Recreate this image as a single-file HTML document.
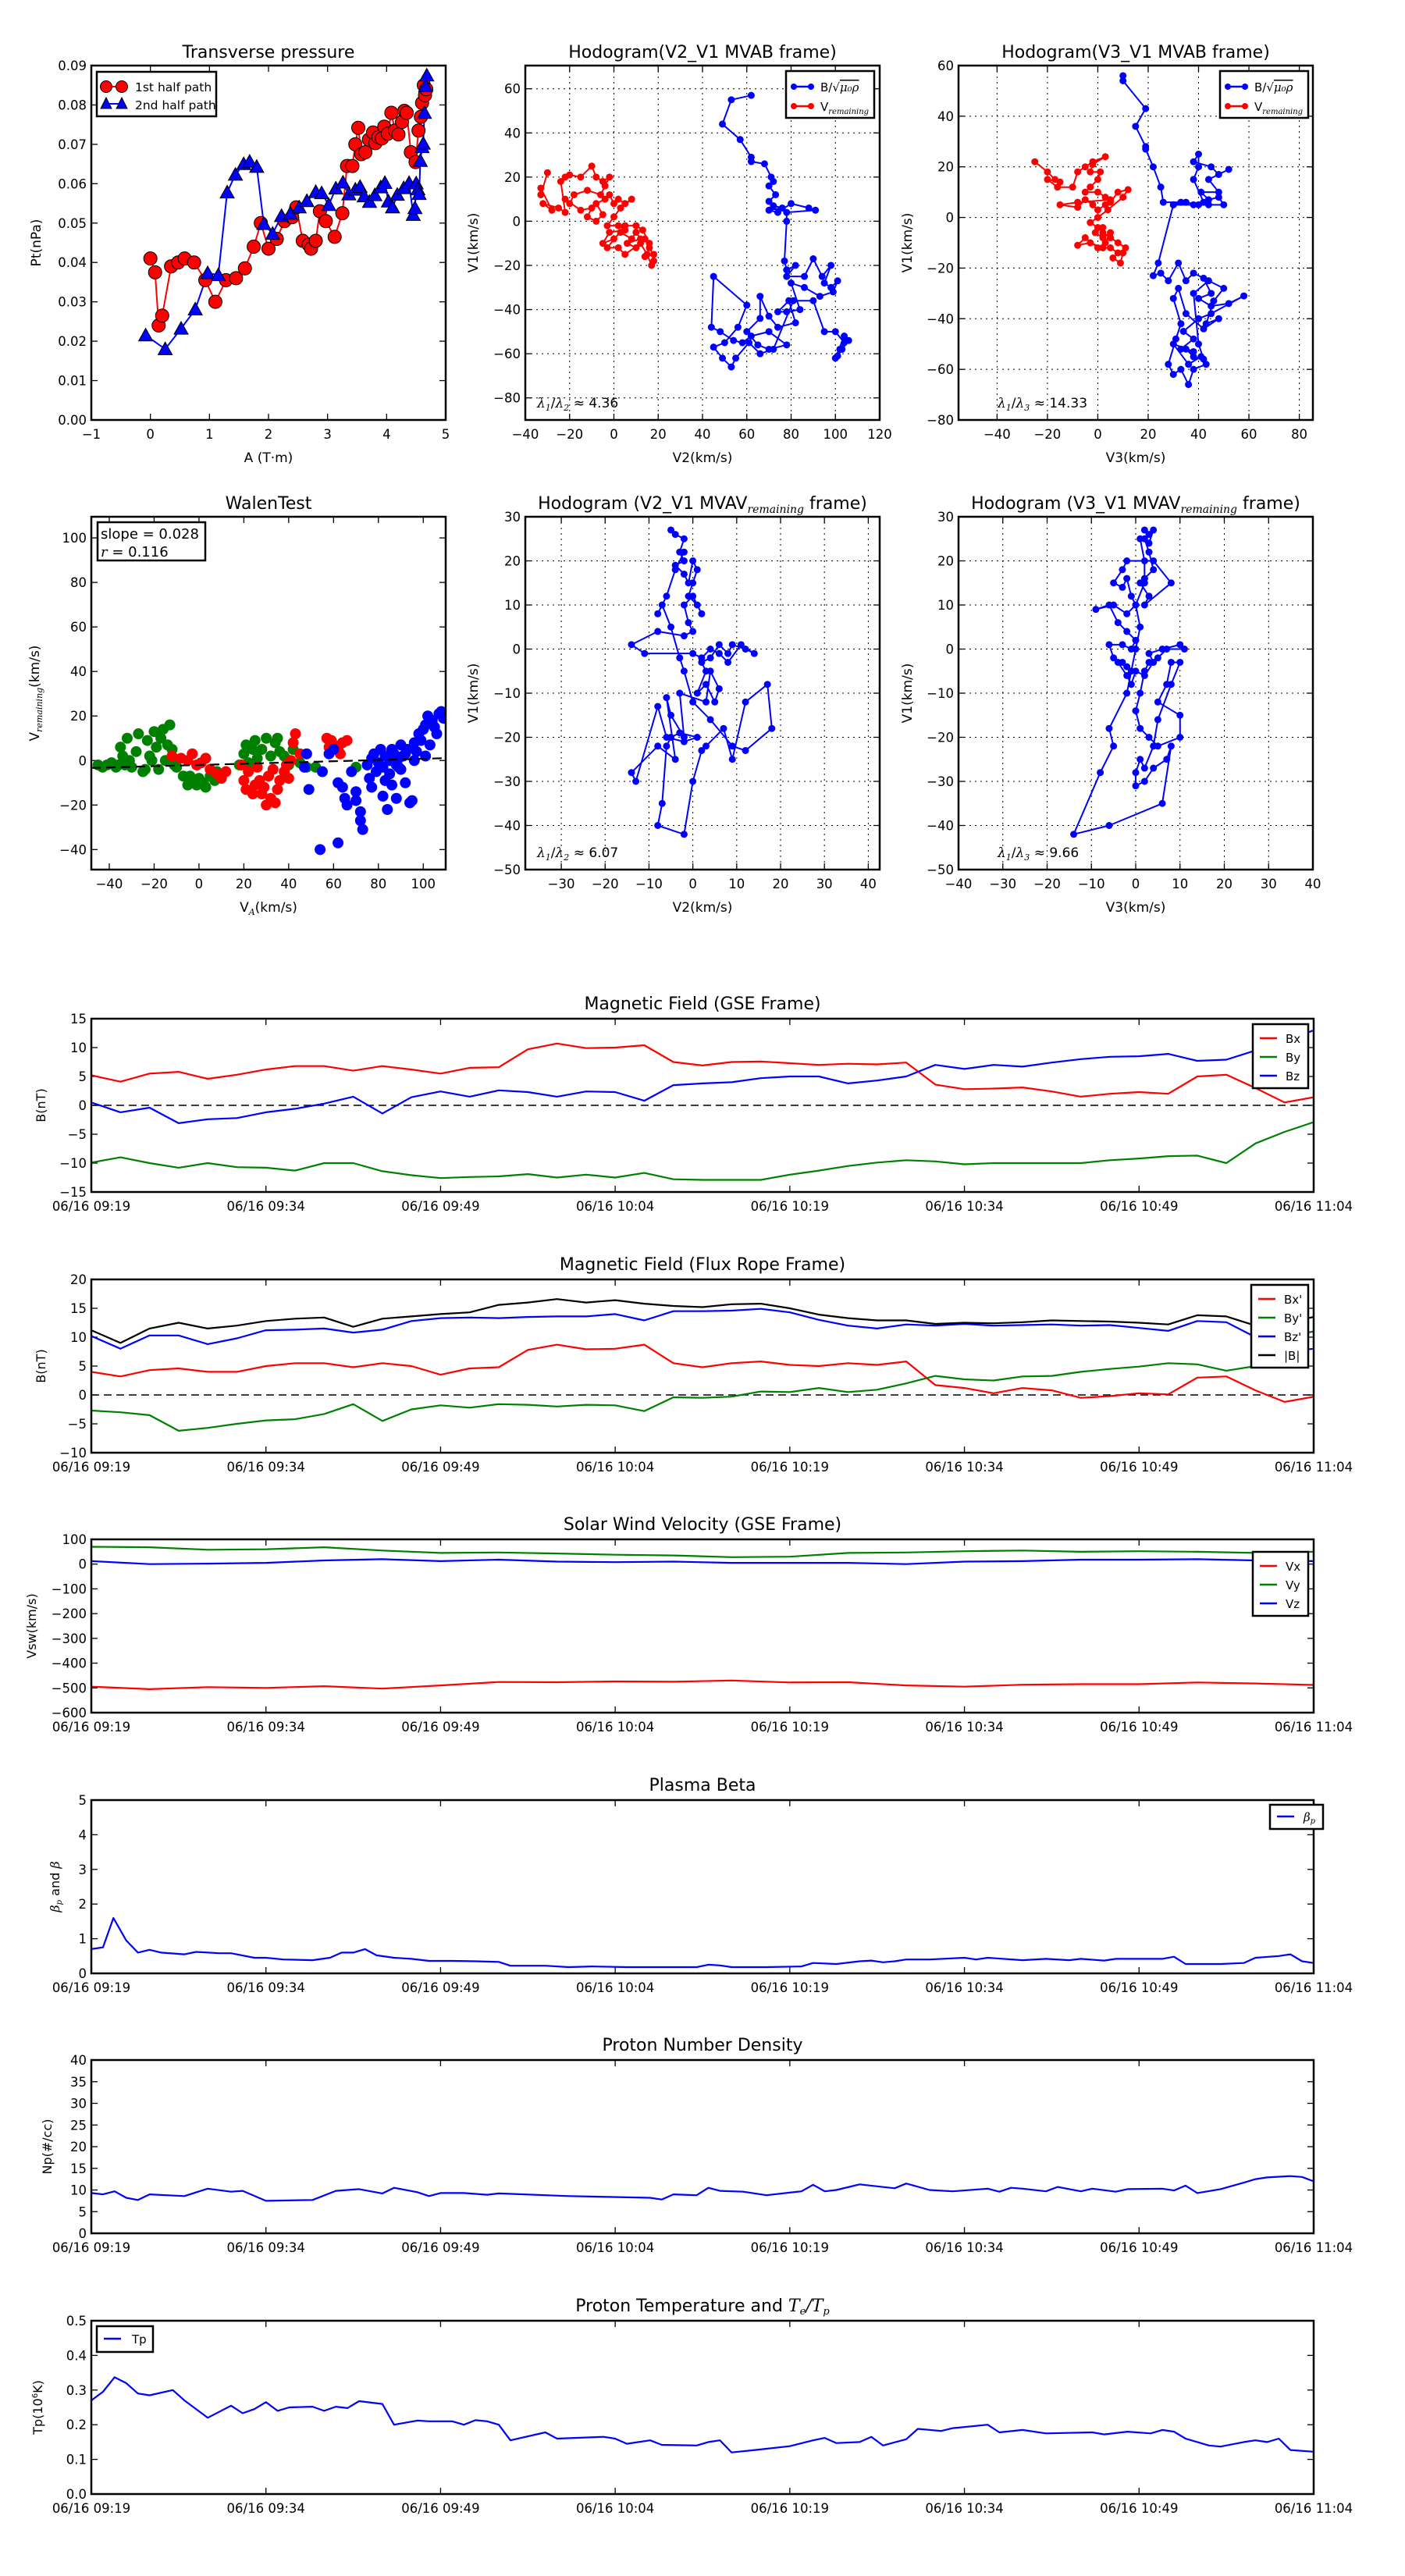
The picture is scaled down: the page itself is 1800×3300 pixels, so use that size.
<!DOCTYPE html>
<html><head><meta charset="utf-8">
<style>
html,body{margin:0;padding:0;background:#fff;}
svg{display:block;}
text{font-family:"DejaVu Sans","Liberation Sans",sans-serif;fill:#000;}
.m{font-family:"DejaVu Serif","Liberation Serif",serif;font-style:italic;}
</style></head>
<body>
<svg id="fig" xmlns="http://www.w3.org/2000/svg" width="1800" height="3300" viewBox="0 0 1800 3300"></svg>
<script>
// ---------- DATA ----------
const tpA1 = [0,0.08,0.14,0.2,0.35,0.47,0.58,0.74,0.93,1.1,1.28,1.45,1.6,1.75,1.87,2.0,2.14,2.27,2.4,2.47,2.58,2.68,2.72,2.8,2.87,2.97,3.12,3.25,3.33,3.42,3.47,3.52,3.57,3.64,3.7,3.77,3.81,3.86,3.92,3.96,4.02,4.08,4.14,4.2,4.26,4.3,4.34,4.41,4.49,4.54,4.58,4.6,4.63,4.65,4.67];
const tpP1 = [0.041,0.0375,0.024,0.0265,0.039,0.040,0.041,0.040,0.0355,0.030,0.0355,0.036,0.0385,0.044,0.050,0.0435,0.046,0.0505,0.0515,0.054,0.0455,0.0445,0.0435,0.0455,0.053,0.0505,0.0465,0.0525,0.0645,0.0645,0.070,0.0742,0.0675,0.068,0.0712,0.073,0.0703,0.0718,0.0715,0.0745,0.0727,0.078,0.0735,0.0725,0.0757,0.0785,0.078,0.068,0.0655,0.0735,0.077,0.0805,0.085,0.0825,0.084];
const tpA2 = [-0.08,0.25,0.52,0.76,0.97,1.15,1.3,1.44,1.58,1.68,1.8,1.92,2.07,2.22,2.37,2.52,2.65,2.8,2.9,3.02,3.14,3.26,3.36,3.47,3.55,3.62,3.71,3.8,3.9,3.97,4.03,4.1,4.18,4.29,4.38,4.45,4.48,4.5,4.53,4.55,4.57,4.6,4.62,4.64,4.66,4.68];
const tpP2 = [0.0215,0.018,0.0232,0.0281,0.0373,0.0368,0.0578,0.0623,0.065,0.0656,0.0643,0.0498,0.0473,0.0518,0.0524,0.0540,0.0556,0.0579,0.0576,0.0546,0.0588,0.0603,0.0573,0.0585,0.0592,0.0568,0.0554,0.0571,0.0591,0.0602,0.0555,0.054,0.0572,0.0589,0.0602,0.0521,0.0538,0.0601,0.0586,0.0574,0.0658,0.0693,0.0702,0.078,0.0848,0.0875];
const h1Bx = [62,53,49,57,62,62,68,71,72,70,73,70,72,76,70,74,80,88,91,78,78,77,78,82,78,86,90,94,98,95,98,101,99,93,86,80,84,78,74,79,82,74,70,66,66,60,65,70,78,70,62,58,54,48,44,45,60,56,50,45,49,53,55,61,66,72,81,90,95,100,104,102,100,104,106,103,101];
const h1By = [57,55,44,37,29,27,26,20,18,16,12,9,7,6,5,4,8,6,5,4,0,-18,-22,-20,-25,-25,-17,-25,-20,-28,-30,-27,-32,-34,-30,-28,-40,-41,-41,-36,-46,-48,-43,-34,-44,-50,-56,-58,-56,-50,-52,-55,-54,-50,-48,-25,-38,-48,-55,-57,-62,-66,-62,-55,-60,-58,-36,-36,-50,-50,-55,-58,-62,-52,-54,-58,-61];
const h1Vx = [-30,-33,-33,-28,-32,-25,-22,-24,-22,-20,-15,-10,-8,-5,-2,-4,-6,-12,-18,-20,-22,-15,-10,-12,-8,-5,-8,-4,-2,0,2,5,8,3,0,-3,2,5,-2,-5,0,3,8,10,12,6,10,14,16,14,18,17,15,12,5,2,-3,5,10,13,16,18];
const h1Vy = [22,12,15,5,8,6,4,18,20,21,20,25,20,18,20,16,12,14,12,8,10,5,6,2,0,3,8,10,12,8,10,8,10,6,2,-2,-2,-4,-5,-10,-8,-5,-8,-5,-8,-10,-12,-8,-12,-16,-15,-20,-15,-10,-15,-12,-12,-2,-2,-4,-10,-18];
const h2Bx = [10,10,19,15,19,19,22,25,26,33,30,38,42,38,40,40,38,45,48,52,44,48,41,44,48,50,44,40,35,30,24,22,25,28,32,35,38,42,45,40,45,52,58,45,40,34,38,33,38,30,36,41,43,38,36,33,30,28,31,33,30,32,35,42,48,43,46,50,44,38,40,42,38,35];
const h2By = [56,54,43,36,28,27,20,12,6,6,5,5,6,15,20,25,22,20,17,19,15,10,10,7,8,5,5,5,6,5,-18,-23,-22,-25,-18,-25,-22,-24,-30,-32,-35,-34,-31,-38,-40,-45,-48,-52,-53,-50,-58,-55,-58,-60,-66,-60,-62,-58,-48,-42,-32,-28,-38,-44,-40,-42,-33,-28,-25,-30,-50,-56,-55,-52];
const h2Vx = [-25,-20,-17,-15,-20,-16,-10,-8,-5,-2,3,-2,-3,1,0,-3,-5,0,3,5,-8,-15,-8,-5,-2,0,3,5,8,12,10,4,0,-3,0,2,-1,2,5,3,0,-5,-8,-3,2,5,8,6,9,10,11,8,5,2];
const h2Vy = [22,18,15,14,15,12,12,18,20,22,24,21,18,18,15,12,10,10,8,7,6,5,4,7,5,3,5,6,10,11,8,3,0,-2,-4,-4,-6,-8,-6,-10,-12,-8,-11,-10,-12,-12,-14,-16,-18,-14,-12,-10,-8,-6];
const wGx = [-45,-43,-41,-39,-37,-36,-35,-34,-33,-32,-31,-30,-28,-27,-25,-24,-23,-22,-21,-20,-19,-18,-17,-16,-15,-14,-13,-12,-11,-10,-7,-5,-4,-3,-1,0,2,3,5,7,8,18,20,21,22,24,25,26,28,30,32,34,35,36,38,40,42,45,48,52,70];
const wGy = [-2,-3,-2,-1,-3,-2,6,2,-2,10,0,-3,4,12,-5,-4,9,2,0,13,6,-4,10,14,0,7,16,5,-2,-3,-7,-11,-7,-9,-11,-8,-10,-12,-7,-9,-5,-2,3,7,-1,5,9,1,5,10,2,8,10,4,2,-2,5,-1,-3,-3,-3];
const wRx = [-12,-8,-5,-3,-1,1,3,5,8,10,12,19,20,21,22,24,25,26,27,28,29,30,31,32,33,34,35,36,38,39,40,41,42,43,45,57,59,60,62,64,66,58,63];
const wRy = [2,1,0,3,-2,-1,1,-4,-6,-8,-5,-2,-9,-13,-5,-15,-11,-3,-9,-15,-12,-20,-7,-17,-4,-19,-13,-9,-5,-2,-8,0,8,12,3,10,9,7,5,8,9,6,3];
const wBx = [48,47,49,54,62,55,58,60,62,64,65,66,68,70,70,72,72,73,75,76,77,77,78,79,80,81,82,82,83,83,84,85,85,86,86,87,88,88,89,90,90,91,92,93,94,95,96,97,98,99,100,101,102,103,104,105,106,107,108,109,101,96,92,89];
const wBy = [3,-3,-13,-40,-37,-5,3,5,-10,-12,-17,-20,-5,-14,-18,-27,-23,-31,-2,-8,-12,1,3,-5,-1,5,-3,-16,-9,2,-22,0,-6,5,-11,3,-2,-17,1,7,-4,2,-10,5,-19,-18,8,4,12,9,14,16,20,7,18,15,12,21,22,19,2,0,3,-3];
const walenSlope = [0.028];
const walenIntercept = [-2.0];
const h3x = [-5,-4,-2,-3,-2,-4,-2,-1,0,1,0,-1,1,2,0,-2,-1,0,-2,-8,-14,-11,0,2,4,6,8,11,14,12,9,8,6,4,2,3,1,3,5,6,4,3,-3,-2,-5,-6,-4,-8,-14,-13,-8,-6,-2,1,-3,-5,-6,-7,-8,-2,0,2,3,7,9,12,17,18,12,9,4,0,-2,-3,-5,-7,-8,-6,-4,-2];
const h3y = [27,26,25,22,20,19,17,15,20,18,15,12,10,8,12,10,6,4,3,4,1,-1,-1,-2,0,-1,-3,1,-1,0,1,-1,1,-2,-3,-5,-10,-8,-12,-9,-5,-12,-10,-20,-15,-11,-25,-22,-28,-30,-13,-20,-21,-20,-19,-20,-22,-35,-40,-42,-30,-23,-22,-18,-25,-12,-8,-18,-23,-22,-16,-12,-5,-2,5,10,8,12,18,22];
const h4x = [2,3,4,3,2,3,4,2,1,3,2,8,4,-2,-3,-5,-3,-2,-1,0,-2,-5,-9,-6,-4,-2,0,-1,-3,-6,-5,-3,-2,-4,-2,-1,0,2,4,3,6,10,11,7,5,3,2,1,0,1,3,5,10,10,5,7,8,10,8,5,4,2,1,0,0,2,4,7,8,6,-6,-14,-8,-5,-6,-2,-1,0,1,0,2,2,1];
const h4y = [27,26,27,24,25,22,18,16,15,12,10,15,20,20,18,15,14,16,12,10,8,10,9,10,6,4,2,0,1,1,-2,-3,-4,-3,-6,-8,-5,-6,-3,-1,0,1,0,0,-2,-3,-5,-10,-14,-18,-20,-22,-20,-15,-12,-8,-3,-3,-8,-16,-22,-27,-25,-28,-31,-30,-27,-25,-22,-35,-40,-42,-28,-22,-18,-10,-5,0,5,10,15,20,25];
const tB = [0,2.5,5,7.5,10,12.5,15,17.5,20,22.5,25,27.5,30,32.5,35,37.5,40,42.5,45,47.5,50,52.5,55,57.5,60,62.5,65,67.5,70,72.5,75,77.5,80,82.5,85,87.5,90,92.5,95,97.5,100,102.5,105];
const gseBx = [5.2,4.1,5.5,5.8,4.6,5.3,6.2,6.8,6.8,6.0,6.8,6.2,5.5,6.5,6.6,9.7,10.7,9.9,10.0,10.4,7.5,6.9,7.5,7.6,7.3,7.0,7.2,7.1,7.4,3.6,2.8,2.9,3.1,2.4,1.5,2.0,2.3,2.0,5.0,5.3,3.0,0.5,1.4];
const gseBy = [-9.9,-9.0,-10.0,-10.8,-10.0,-10.7,-10.8,-11.3,-10.0,-10.0,-11.4,-12.1,-12.6,-12.4,-12.3,-11.9,-12.5,-12.0,-12.5,-11.7,-12.8,-12.9,-12.9,-12.9,-12.0,-11.3,-10.5,-9.9,-9.5,-9.7,-10.2,-10.0,-10.0,-10.0,-10.0,-9.5,-9.2,-8.8,-8.7,-10.0,-6.6,-4.6,-2.9];
const gseBz = [0.5,-1.2,-0.4,-3.1,-2.4,-2.2,-1.2,-0.6,0.3,1.5,-1.4,1.4,2.4,1.5,2.6,2.3,1.5,2.4,2.3,0.8,3.5,3.8,4.0,4.7,5.0,5.0,3.8,4.3,5.0,7.0,6.3,7.0,6.7,7.4,8.0,8.4,8.5,8.9,7.7,7.9,9.5,11.0,13.0];
const frBx = [4.0,3.2,4.3,4.6,4.0,4.0,5.0,5.5,5.5,4.8,5.5,5.0,3.5,4.6,4.8,7.8,8.7,7.9,8.0,8.7,5.5,4.8,5.5,5.8,5.2,5.0,5.5,5.2,5.8,1.7,1.2,0.3,1.2,0.8,-0.5,-0.2,0.3,0.1,3.0,3.2,0.8,-1.2,-0.3];
const frBy = [-2.7,-3.0,-3.5,-6.2,-5.7,-5.0,-4.4,-4.2,-3.3,-1.6,-4.5,-2.5,-1.8,-2.2,-1.6,-1.7,-2.0,-1.7,-1.8,-2.8,-0.4,-0.5,-0.3,0.6,0.5,1.2,0.5,0.9,2.0,3.3,2.7,2.5,3.2,3.3,4.0,4.5,4.9,5.5,5.3,4.2,5.0,10.0,11.0];
const frBz = [10.2,8.0,10.3,10.3,8.8,9.8,11.2,11.3,11.5,10.8,11.3,12.8,13.3,13.4,13.3,13.5,13.6,13.6,14.0,12.9,14.5,14.5,14.6,14.9,14.3,13.0,12.0,11.5,12.2,12.0,12.3,12.0,12.1,12.2,12.0,12.1,11.6,11.1,12.8,12.6,10.0,7.5,8.0];
const frBt = [11.2,9.0,11.5,12.5,11.5,12.0,12.8,13.2,13.4,11.8,13.2,13.6,14.0,14.3,15.6,16.0,16.6,16.0,16.4,15.8,15.4,15.2,15.7,15.8,15.0,13.9,13.3,12.9,12.9,12.3,12.5,12.4,12.6,12.9,12.8,12.7,12.5,12.2,13.8,13.6,12.0,12.5,13.5];
const tV = [0,5,10,15,20,25,30,35,40,45,50,55,60,65,70,75,80,85,90,95,100,105];
const vx = [-495,-505,-497,-500,-493,-503,-490,-476,-477,-474,-475,-470,-478,-477,-490,-495,-487,-485,-485,-478,-482,-488];
const vy = [70,68,58,60,68,55,45,47,43,38,35,28,30,45,47,52,55,50,52,50,45,50];
const vz = [12,0,2,5,15,20,12,18,10,8,10,5,5,5,0,10,12,18,18,20,15,12];
const tBeta = [0,1,1.9,3,4,5,6,8,9,11,12,14,15,16.5,19,20.5,21.5,22.5,23.5,24.5,26,27.5,29,31,33,35,36,39,41,43,46,49,52,53,54,55,58,61,62,64,66,67,68,69,70,72,75,76,77,80,82,84,85,87,88,90,92,93,94,97,99,100,102,103,104,105];
const beta = [0.7,0.75,1.6,0.95,0.6,0.68,0.6,0.55,0.62,0.58,0.58,0.45,0.45,0.4,0.38,0.45,0.6,0.6,0.7,0.52,0.45,0.42,0.36,0.36,0.35,0.33,0.22,0.22,0.18,0.2,0.18,0.18,0.18,0.25,0.23,0.18,0.18,0.2,0.3,0.27,0.35,0.37,0.32,0.35,0.4,0.4,0.45,0.4,0.45,0.38,0.42,0.38,0.42,0.37,0.42,0.42,0.42,0.48,0.27,0.27,0.3,0.45,0.5,0.55,0.35,0.3];
const tNp = [0,1,2,3,4,5,8,10,12,13,15,19,21,23,25,26,28,29,30,32,34,35,41,48,49,50,52,53,54,56,58,61,62,63,64,66,69,70,72,74,77,78,79,80,82,83,85,86,88,89,92,93,94,95,97,99,100,101,103,104,105];
const np = [9.3,9.0,9.7,8.2,7.7,9.0,8.6,10.3,9.6,9.8,7.5,7.7,9.8,10.2,9.2,10.5,9.5,8.6,9.3,9.3,8.9,9.2,8.6,8.2,7.8,9.0,8.8,10.5,9.8,9.6,8.8,9.7,11.2,9.7,10.0,11.3,10.4,11.5,10.0,9.7,10.3,9.6,10.5,10.3,9.7,10.7,9.7,10.3,9.6,10.2,10.3,9.9,11.0,9.3,10.2,11.7,12.5,12.9,13.2,13.0,12.0];
const tTp = [0,1,2,3,4,5,7,8,10,12,13,14,15,16,17,19,20,21,22,23,25,26,28,29,31,32,33,34,35,36,39,40,44,45,46,48,49,52,53,54,55,57,60,62,63,64,66,67,68,70,71,73,74,77,78,80,82,86,87,89,91,92,93,94,96,97,99,100,101,102,103,105];
const tp = [0.27,0.295,0.337,0.32,0.29,0.285,0.3,0.27,0.22,0.255,0.233,0.245,0.265,0.24,0.25,0.252,0.24,0.252,0.248,0.268,0.26,0.2,0.212,0.21,0.21,0.2,0.213,0.21,0.2,0.155,0.178,0.16,0.165,0.16,0.145,0.155,0.142,0.14,0.15,0.155,0.12,0.127,0.138,0.155,0.162,0.147,0.15,0.165,0.14,0.158,0.188,0.182,0.19,0.2,0.178,0.185,0.175,0.178,0.172,0.18,0.175,0.185,0.18,0.16,0.14,0.137,0.15,0.155,0.15,0.16,0.127,0.122];
const timeTickLabels = ['06/16 09:19','06/16 09:34','06/16 09:49','06/16 10:04','06/16 10:19','06/16 10:34','06/16 10:49','06/16 11:04'];
const timeTicks = [0,15,30,45,60,75,90,105];

// ---------- HELPERS ----------
const NS = 'http://www.w3.org/2000/svg';
const svg = document.getElementById('fig');
function el(tag, attrs, parent) {
  const e = document.createElementNS(NS, tag);
  for (const k in attrs) e.setAttribute(k, attrs[k]);
  (parent || svg).appendChild(e);
  return e;
}
function txt(parent, x, y, s, size, anchor, name, extra) {
  const t = el('text', Object.assign({x: x, y: y, 'font-size': size, 'text-anchor': anchor || 'middle'}, extra || {}), parent);
  
  
  t.textContent = s;
  return t;
}
function axes(cfg) {
  const g = el('g', {});
  
  
  const sx = v => cfg.x + (v - cfg.xmin) / (cfg.xmax - cfg.xmin) * cfg.w;
  const sy = v => cfg.y + cfg.h - (v - cfg.ymin) / (cfg.ymax - cfg.ymin) * cfg.h;
  const clipId = 'clip-' + cfg.name;
  const defs = el('defs', {}, g);
  const cp = el('clipPath', {id: clipId}, defs);
  el('rect', {x: cfg.x, y: cfg.y, width: cfg.w, height: cfg.h}, cp);
  const tl = 8;
  cfg.xticks.forEach((v, i) => {
    const X = sx(v);
    if (cfg.grid) {
      const gl = el('line', {x1: X, x2: X, y1: cfg.y, y2: cfg.y + cfg.h, stroke: '#000', 'stroke-width': 1, 'stroke-dasharray': '2,5'}, g);
      
      
    }
    const t1 = el('line', {x1: X, x2: X, y1: cfg.y + cfg.h, y2: cfg.y + cfg.h - tl, stroke: '#000', 'stroke-width': 1.3}, g);
    
    
    el('line', {x1: X, x2: X, y1: cfg.y, y2: cfg.y + tl, stroke: '#000', 'stroke-width': 1.3}, g);
    const lab = cfg.xlabels ? cfg.xlabels[i] : String(v).replace('-', '\u2212');
    txt(g, X, cfg.y + cfg.h + 24, lab, 16.5, 'middle', 'x-tick-label');
  });
  cfg.yticks.forEach((v, i) => {
    const Y = sy(v);
    if (cfg.grid) {
      const gl = el('line', {x1: cfg.x, x2: cfg.x + cfg.w, y1: Y, y2: Y, stroke: '#000', 'stroke-width': 1, 'stroke-dasharray': '2,5'}, g);
      
      
    }
    const t1 = el('line', {x1: cfg.x, x2: cfg.x + tl, y1: Y, y2: Y, stroke: '#000', 'stroke-width': 1.3}, g);
    
    
    el('line', {x1: cfg.x + cfg.w, x2: cfg.x + cfg.w - tl, y1: Y, y2: Y, stroke: '#000', 'stroke-width': 1.3}, g);
    const lab = cfg.ylabels ? cfg.ylabels[i] : String(v).replace('-', '\u2212');
    txt(g, cfg.x - 6, Y + 6, lab, 16.5, 'end', 'y-tick-label');
  });
  const plot = el('g', {'clip-path': 'url(#' + clipId + ')'}, g);
  
  
  const fr = el('rect', {x: cfg.x, y: cfg.y, width: cfg.w, height: cfg.h, fill: 'none', stroke: '#000', 'stroke-width': 2.5}, g);
  
  
  return {g, plot, sx, sy};
}
function line(ax, xs, ys, color, name, width) {
  const d = xs.map((x, i) => (i ? 'L' : 'M') + ax.sx(x).toFixed(1) + ',' + ax.sy(ys[i]).toFixed(1)).join('');
  const p = el('path', {d: d, fill: 'none', stroke: color, 'stroke-width': width || 2.2, 'stroke-linejoin': 'round'}, ax.plot);
  
  
  return p;
}
function dots(ax, xs, ys, color, r, name, stroke) {
  xs.forEach((x, i) => {
    const c = el('circle', {cx: ax.sx(x), cy: ax.sy(ys[i]), r: r, fill: color, stroke: stroke || 'none', 'stroke-width': 1}, ax.plot);
    
    
  });
}
function tris(ax, xs, ys, color, s, name) {
  xs.forEach((x, i) => {
    const X = ax.sx(x), Y = ax.sy(ys[i]);
    const p = el('polygon', {points: `${X},${Y - s} ${X - s},${Y + s * 0.8} ${X + s},${Y + s * 0.8}`, fill: color, stroke: '#000', 'stroke-width': 1}, ax.plot);
    
    
  });
}
function ylabel(x, y, s, name, size) {
  return txt(svg, 0, 0, s, size || 16, 'middle', name, {transform: `translate(${x},${y}) rotate(-90)`});
}
function legendBox(x, y, w, h, name) {
  const g = el('g', {});
  
  
  const r = el('rect', {x: x, y: y, width: w, height: h, fill: '#fff', stroke: '#000', 'stroke-width': 2.5}, g);
  
  
  return g;
}
function legendEntry(g, x, y, color, label, name, marker, len, gap, size) {
  const L = len || 24;
  const l = el('line', {x1: x, x2: x + L, y1: y, y2: y, stroke: color, 'stroke-width': 2.5}, g);
  
  
  if (marker === 'dot') {
    el('circle', {cx: x, cy: y, r: 4, fill: color}, g);
    el('circle', {cx: x + L, cy: y, r: 4, fill: color}, g);
  }
  return txt(g, x + L + (gap || 16), y + 6, label, size || 16, 'start', name);
}

// ---------- ROW 1 ----------
const R1y = 84, R1h = 454, PW = 454;
const P1x = 117, P2x = 673, P3x = 1228;

const a1 = axes({name: 'transverse-pressure-axes', x: P1x, y: R1y, w: PW, h: R1h, xmin: -1, xmax: 5, ymin: 0, ymax: 0.09,
  xticks: [-1,0,1,2,3,4,5], yticks: [0,0.01,0.02,0.03,0.04,0.05,0.06,0.07,0.08,0.09],
  ylabels: ['0.00','0.01','0.02','0.03','0.04','0.05','0.06','0.07','0.08','0.09']});
line(a1, tpA1, tpP1, '#f00', 'first-half-path-line', 2);
line(a1, tpA2, tpP2, '#00f', 'second-half-path-line', 2);
dots(a1, tpA1, tpP1, '#f00', 8.5, 'first-half-point', '#000');
tris(a1, tpA2, tpP2, '#00f', 9, 'second-half-point');
txt(svg, P1x + PW / 2, 74, 'Transverse pressure', 22, 'middle', 'transverse-pressure-title');
txt(svg, P1x + PW / 2, 592, 'A (T\u00b7m)', 17, 'middle', 'x-axis-title');
ylabel(52, R1y + R1h / 2, 'Pt(nPa)', 'y-axis-title', 17);
{
  const lg = legendBox(124, 92, 153, 57, 'transverse-pressure-legend');
  const l1 = el('line', {x1: 136, x2: 156, y1: 111, y2: 111, stroke: '#f00', 'stroke-width': 2}, lg);
   
  el('circle', {cx: 136, cy: 111, r: 7.5, fill: '#f00', stroke: '#000'}, lg);
  el('circle', {cx: 156, cy: 111, r: 7.5, fill: '#f00', stroke: '#000'}, lg);
  txt(lg, 173, 117, '1st half path', 15.5, 'start', 'legend-entry-first-half');
  const l2 = el('line', {x1: 136, x2: 156, y1: 133, y2: 133, stroke: '#00f', 'stroke-width': 2}, lg);
   
  el('polygon', {points: '136,125 129,139 143,139', fill: '#00f', stroke: '#000'}, lg);
  el('polygon', {points: '156,125 149,139 163,139', fill: '#00f', stroke: '#000'}, lg);
  txt(lg, 173, 140, '2nd half path', 15.5, 'start', 'legend-entry-second-half');
}

const a2 = axes({name: 'hodogram-v2-v1-mvab-axes', x: P2x, y: R1y, w: PW, h: R1h, xmin: -40, xmax: 120, ymin: -90, ymax: 70.5,
  xticks: [-40,-20,0,20,40,60,80,100,120], yticks: [-80,-60,-40,-20,0,20,40,60], grid: true});
line(a2, h1Bx, h1By, '#00f', 'b-field-path', 2);
dots(a2, h1Bx, h1By, '#00f', 4.5, 'b-field-point');
line(a2, h1Vx, h1Vy, '#f00', 'v-remaining-path', 2);
dots(a2, h1Vx, h1Vy, '#f00', 4.5, 'v-remaining-point');
txt(svg, P2x + PW / 2, 74, 'Hodogram(V2_V1 MVAB frame)', 22, 'middle', 'hodogram-v2-mvab-title');
txt(svg, P2x + PW / 2, 592, 'V2(km/s)', 17, 'middle', 'x-axis-title');
ylabel(612, R1y + R1h / 2, 'V1(km/s)', 'y-axis-title', 17);
{
  const t = txt(svg, 688, 522, '', 17, 'start', 'eigenvalue-ratio-label');
  t.innerHTML = '<tspan class="m">λ</tspan><tspan class="m" font-size="11" dy="4">1</tspan><tspan dy="-4">/</tspan><tspan class="m">λ</tspan><tspan class="m" font-size="11" dy="4">2</tspan><tspan dy="-4"> ≈ 4.36</tspan>';
}
function mvabLegend(x, name) {
  const lg = legendBox(x, 91, 113, 60, name);
  legendEntry(lg, x + 10, 111, '#00f', '', 'legend-entry-b', 'dot', 22, 12, 15).innerHTML = 'B/√<tspan class="m" text-decoration="overline">μ₀ρ</tspan>';
  legendEntry(lg, x + 10, 136, '#f00', '', 'legend-entry-v-remaining', 'dot', 22, 12, 15).innerHTML = 'V<tspan class="m" font-size="10" dy="4">remaining</tspan>';
}
mvabLegend(1007, 'hodogram-v2-mvab-legend');

const a3 = axes({name: 'hodogram-v3-v1-mvab-axes', x: P3x, y: R1y, w: PW, h: R1h, xmin: -55.3, xmax: 85.4, ymin: -80, ymax: 60,
  xticks: [-40,-20,0,20,40,60,80], yticks: [-80,-60,-40,-20,0,20,40,60], grid: true});
line(a3, h2Bx, h2By, '#00f', 'b-field-path', 2);
dots(a3, h2Bx, h2By, '#00f', 4.5, 'b-field-point');
line(a3, h2Vx, h2Vy, '#f00', 'v-remaining-path', 2);
dots(a3, h2Vx, h2Vy, '#f00', 4.5, 'v-remaining-point');
txt(svg, P3x + PW / 2, 74, 'Hodogram(V3_V1 MVAB frame)', 22, 'middle', 'hodogram-v3-mvab-title');
txt(svg, P3x + PW / 2, 592, 'V3(km/s)', 17, 'middle', 'x-axis-title');
ylabel(1168, R1y + R1h / 2, 'V1(km/s)', 'y-axis-title', 17);
{
  const t = txt(svg, 1278, 522, '', 17, 'start', 'eigenvalue-ratio-label');
  t.innerHTML = '<tspan class="m">λ</tspan><tspan class="m" font-size="11" dy="4">1</tspan><tspan dy="-4">/</tspan><tspan class="m">λ</tspan><tspan class="m" font-size="11" dy="4">3</tspan><tspan dy="-4"> ≈ 14.33</tspan>';
}
mvabLegend(1563, 'hodogram-v3-mvab-legend');

// ---------- ROW 2 ----------
const R2y = 662, R2h = 452;
const a4 = axes({name: 'walen-test-axes', x: P1x, y: R2y, w: PW, h: R2h, xmin: -48, xmax: 110, ymin: -49, ymax: 109.5,
  xticks: [-40,-20,0,20,40,60,80,100], yticks: [-40,-20,0,20,40,60,80,100]});
dots(a4, wGx, wGy, '#008000', 7, 'walen-green-point');
dots(a4, wRx, wRy, '#f00', 7, 'walen-red-point');
dots(a4, wBx, wBy, '#00f', 7, 'walen-blue-point');
{
  const xs = [-48, 110];
  const ys = xs.map(x => walenSlope[0] * x + walenIntercept[0]);
  const p = line(a4, xs, ys, '#000', 'walen-fit-line', 2.2);
  p.setAttribute('stroke-dasharray', '12,7');
}
txt(svg, P1x + PW / 2, 652, 'WalenTest', 22, 'middle', 'walen-test-title');
{
  const t = txt(svg, P1x + PW / 2, 1168, '', 17, 'middle', 'x-axis-title');
  t.innerHTML = 'V<tspan class="m" font-size="11" dy="4">A</tspan><tspan dy="-4">(km/s)</tspan>';
  const yl = ylabel(50, R2y + R2h / 2, '', 'y-axis-title', 17);
  yl.innerHTML = 'V<tspan class="m" font-size="11" dy="4">remaining</tspan><tspan dy="-4">(km/s)</tspan>';
  const bx = el('rect', {x: 125, y: 669, width: 138, height: 49, fill: '#fff', stroke: '#000', 'stroke-width': 2.5});
  
  
  txt(svg, 129, 690, 'slope = 0.028', 18, 'start', 'walen-slope-text');
  const rt = txt(svg, 129, 713, '', 18, 'start', 'walen-r-text');
  rt.innerHTML = '<tspan class="m">r</tspan> = 0.116';
}

const a5 = axes({name: 'hodogram-v2-mvav-axes', x: P2x, y: R2y, w: PW, h: R2h, xmin: -38.2, xmax: 42.6, ymin: -50, ymax: 30,
  xticks: [-30,-20,-10,0,10,20,30,40], yticks: [-50,-40,-30,-20,-10,0,10,20,30], grid: true});
line(a5, h3x, h3y, '#00f', 'mvav-v2-path', 2);
dots(a5, h3x, h3y, '#00f', 4.5, 'mvav-v2-point');
{
  const t = txt(svg, P2x + PW / 2, 652, '', 22, 'middle', 'hodogram-v2-mvav-title');
  t.innerHTML = 'Hodogram (V2_V1 MVAV<tspan class="m" font-size="14" dy="5">remaining</tspan><tspan dy="-5"> frame)</tspan>';
  const e = txt(svg, 688, 1098, '', 17, 'start', 'eigenvalue-ratio-label');
  e.innerHTML = '<tspan class="m">λ</tspan><tspan class="m" font-size="11" dy="4">1</tspan><tspan dy="-4">/</tspan><tspan class="m">λ</tspan><tspan class="m" font-size="11" dy="4">2</tspan><tspan dy="-4"> ≈ 6.07</tspan>';
}
txt(svg, P2x + PW / 2, 1168, 'V2(km/s)', 17, 'middle', 'x-axis-title');
ylabel(612, R2y + R2h / 2, 'V1(km/s)', 'y-axis-title', 17);

const a6 = axes({name: 'hodogram-v3-mvav-axes', x: P3x, y: R2y, w: PW, h: R2h, xmin: -40, xmax: 40, ymin: -50, ymax: 30,
  xticks: [-40,-30,-20,-10,0,10,20,30,40], yticks: [-50,-40,-30,-20,-10,0,10,20,30], grid: true});
line(a6, h4x, h4y, '#00f', 'mvav-v3-path', 2);
dots(a6, h4x, h4y, '#00f', 4.5, 'mvav-v3-point');
{
  const t = txt(svg, P3x + PW / 2, 652, '', 22, 'middle', 'hodogram-v3-mvav-title');
  t.innerHTML = 'Hodogram (V3_V1 MVAV<tspan class="m" font-size="14" dy="5">remaining</tspan><tspan dy="-5"> frame)</tspan>';
  const e = txt(svg, 1278, 1098, '', 17, 'start', 'eigenvalue-ratio-label');
  e.innerHTML = '<tspan class="m">λ</tspan><tspan class="m" font-size="11" dy="4">1</tspan><tspan dy="-4">/</tspan><tspan class="m">λ</tspan><tspan class="m" font-size="11" dy="4">3</tspan><tspan dy="-4"> ≈ 9.66</tspan>';
}
txt(svg, P3x + PW / 2, 1168, 'V3(km/s)', 17, 'middle', 'x-axis-title');
ylabel(1168, R2y + R2h / 2, 'V1(km/s)', 'y-axis-title', 17);

// ---------- TIME SERIES ----------
const TX = 117, TW = 1566, TH = 222;
const tops = [1305, 1639, 1972, 2306, 2639, 2973];
function tsAxes(i, name, ymin, ymax, yticks, ylabels) {
  return axes({name: name, x: TX, y: tops[i], w: TW, h: TH, xmin: 0, xmax: 105, ymin: ymin, ymax: ymax,
    xticks: timeTicks, xlabels: timeTickLabels, yticks: yticks, ylabels: ylabels});
}
function zeroLine(ax) {
  const p = line(ax, [0, 105], [0, 0], '#000', 'zero-line', 1.5);
  p.setAttribute('stroke-dasharray', '10,6');
}
function tsLegend(x, y, w, entries, name) {
  const lg = legendBox(x, y, w, entries.length * 24 + 10, name);
  entries.forEach((e, k) => {
    legendEntry(lg, x + 9, y + 18 + k * 24, e[0], e[1], 'legend-entry-' + e[2], null, 22, 11, 15);
  });
}

const b1 = tsAxes(0, 'magnetic-field-gse-axes', -15, 15, [-15,-10,-5,0,5,10,15]);
zeroLine(b1);
line(b1, tB, gseBx, '#f00', 'bx-line');
line(b1, tB, gseBy, '#008000', 'by-line');
line(b1, tB, gseBz, '#00f', 'bz-line');
txt(svg, TX + TW / 2, 1293, 'Magnetic Field (GSE Frame)', 22, 'middle', 'magnetic-field-gse-title');
ylabel(58, tops[0] + TH / 2, 'B(nT)', 'y-axis-title', 16);
tsLegend(1605, 1312, 71, [['#f00','Bx','bx'],['#008000','By','by'],['#00f','Bz','bz']], 'magnetic-field-gse-legend');

const b2 = tsAxes(1, 'magnetic-field-flux-rope-axes', -10, 20, [-10,-5,0,5,10,15,20]);
zeroLine(b2);
line(b2, tB, frBx, '#f00', 'bx-prime-line');
line(b2, tB, frBy, '#008000', 'by-prime-line');
line(b2, tB, frBz, '#00f', 'bz-prime-line');
line(b2, tB, frBt, '#000', 'b-magnitude-line');
txt(svg, TX + TW / 2, 1627, 'Magnetic Field (Flux Rope Frame)', 22, 'middle', 'magnetic-field-flux-rope-title');
ylabel(58, tops[1] + TH / 2, 'B(nT)', 'y-axis-title', 16);
tsLegend(1603, 1646, 73, [['#f00',"Bx'",'bx-prime'],['#008000',"By'",'by-prime'],['#00f',"Bz'",'bz-prime'],['#000','|B|','b-magnitude']], 'magnetic-field-flux-rope-legend');

const b3 = tsAxes(2, 'solar-wind-velocity-axes', -600, 100, [-600,-500,-400,-300,-200,-100,0,100]);
line(b3, tV, vx, '#f00', 'vx-line');
line(b3, tV, vy, '#008000', 'vy-line');
line(b3, tV, vz, '#00f', 'vz-line');
txt(svg, TX + TW / 2, 1960, 'Solar Wind Velocity (GSE Frame)', 22, 'middle', 'solar-wind-velocity-title');
ylabel(46, tops[2] + TH / 2, 'Vsw(km/s)', 'y-axis-title', 16);
tsLegend(1605, 1988, 71, [['#f00','Vx','vx'],['#008000','Vy','vy'],['#00f','Vz','vz']], 'solar-wind-velocity-legend');

const b4 = tsAxes(3, 'plasma-beta-axes', 0, 5, [0,1,2,3,4,5]);
line(b4, tBeta, beta, '#00f', 'beta-line');
txt(svg, TX + TW / 2, 2294, 'Plasma Beta', 22, 'middle', 'plasma-beta-title');
{
  const yl = ylabel(76, tops[3] + TH / 2, '', 'y-axis-title', 16);
  yl.innerHTML = '<tspan class="m">β</tspan><tspan class="m" font-size="10" dy="3">p</tspan><tspan dy="-3"> and </tspan><tspan class="m">β</tspan>';
  const lg = legendBox(1627, 2312, 68, 31, 'plasma-beta-legend');
  const t = legendEntry(lg, 1636, 2327, '#00f', '', 'legend-entry-beta-p', null, 22, 12, 15);
  t.innerHTML = '<tspan class="m">β</tspan><tspan class="m" font-size="10" dy="3">p</tspan>';
}

const b5 = tsAxes(4, 'proton-density-axes', 0, 40, [0,5,10,15,20,25,30,35,40]);
line(b5, tNp, np, '#00f', 'density-line');
txt(svg, TX + TW / 2, 2627, 'Proton Number Density', 22, 'middle', 'proton-density-title');
ylabel(66, tops[4] + TH / 2, 'Np(#/cc)', 'y-axis-title', 16);

const b6 = tsAxes(5, 'proton-temperature-axes', 0, 0.5, [0,0.1,0.2,0.3,0.4,0.5], ['0.0','0.1','0.2','0.3','0.4','0.5']);
line(b6, tTp, tp, '#00f', 'tp-line');
{
  const t = txt(svg, TX + TW / 2, 2961, '', 22, 'middle', 'proton-temperature-title');
  t.innerHTML = 'Proton Temperature and <tspan class="m">T</tspan><tspan class="m" font-size="13" dy="4">e</tspan><tspan class="m" dy="-4">/T</tspan><tspan class="m" font-size="13" dy="4">p</tspan>';
  const yl = ylabel(54, tops[5] + TH / 2, '', 'y-axis-title', 16);
  yl.innerHTML = 'Tp(10<tspan font-size="10" dy="-6">6</tspan><tspan dy="6">K)</tspan>';
  const lg = legendBox(124, 2980, 72, 33, 'proton-temperature-legend');
  legendEntry(lg, 133, 2996, '#00f', 'Tp', 'legend-entry-tp', null, 22, 14, 15);
}
</script>
</body></html>
